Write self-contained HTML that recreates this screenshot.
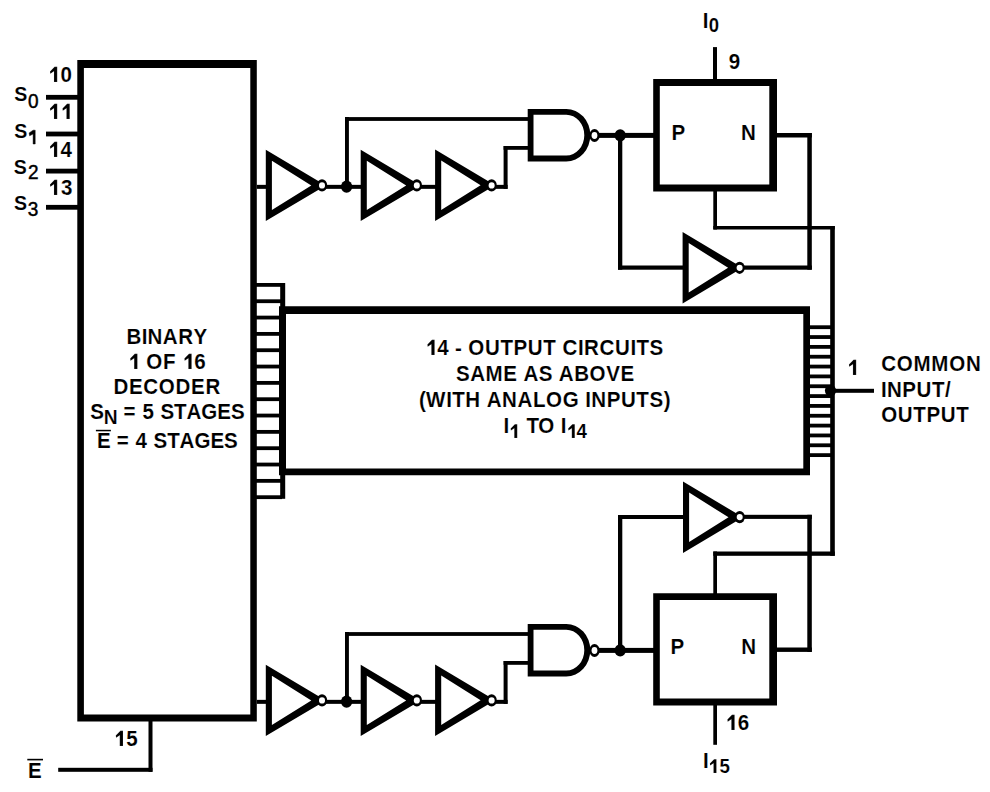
<!DOCTYPE html><html><head><meta charset="utf-8"><style>html,body{margin:0;padding:0;background:#fff;width:990px;height:792px;overflow:hidden;font-family:"Liberation Sans",sans-serif}svg{display:block}</style></head><body><svg width="990" height="792" viewBox="0 0 990 792"><rect width="990" height="792" fill="#fff"/><g fill="#000"><path fill-rule="evenodd" d="M77.3,60H256.8V721.6H77.3Z M83.9,68H250.3V714.4H83.9Z"/><rect x="46.00" y="94.90" width="32.00" height="4.80"/><rect x="46.00" y="131.60" width="32.00" height="4.80"/><rect x="46.00" y="168.70" width="32.00" height="4.80"/><rect x="46.00" y="204.90" width="32.00" height="4.80"/><rect x="58.20" y="767.80" width="94.30" height="4.00"/><rect x="148.50" y="721.00" width="4.00" height="50.80"/><rect x="256.00" y="283.00" width="26.00" height="3.80"/><rect x="256.00" y="299.33" width="26.00" height="3.80"/><rect x="256.00" y="315.66" width="26.00" height="3.80"/><rect x="256.00" y="331.99" width="26.00" height="3.80"/><rect x="256.00" y="348.32" width="26.00" height="3.80"/><rect x="256.00" y="364.65" width="26.00" height="3.80"/><rect x="256.00" y="380.98" width="26.00" height="3.80"/><rect x="256.00" y="397.31" width="26.00" height="3.80"/><rect x="256.00" y="413.64" width="26.00" height="3.80"/><rect x="256.00" y="429.97" width="26.00" height="3.80"/><rect x="256.00" y="446.30" width="26.00" height="3.80"/><rect x="256.00" y="462.63" width="26.00" height="3.80"/><rect x="256.00" y="478.96" width="26.00" height="3.80"/><rect x="256.00" y="495.29" width="26.00" height="3.80"/><rect x="280.20" y="283.00" width="5.00" height="24.00"/><rect x="280.20" y="475.00" width="5.00" height="23.80"/><path fill-rule="evenodd" d="M279,306.3H810V475.3H279Z M286,313.9H803.3V468.4H286Z"/><rect x="809.00" y="325.30" width="22.00" height="3.80"/><rect x="809.00" y="335.14" width="22.00" height="3.80"/><rect x="809.00" y="344.98" width="22.00" height="3.80"/><rect x="809.00" y="354.82" width="22.00" height="3.80"/><rect x="809.00" y="364.66" width="22.00" height="3.80"/><rect x="809.00" y="374.50" width="22.00" height="3.80"/><rect x="809.00" y="384.34" width="22.00" height="3.80"/><rect x="809.00" y="394.18" width="22.00" height="3.80"/><rect x="809.00" y="404.02" width="22.00" height="3.80"/><rect x="809.00" y="413.86" width="22.00" height="3.80"/><rect x="809.00" y="423.70" width="22.00" height="3.80"/><rect x="809.00" y="433.54" width="22.00" height="3.80"/><rect x="809.00" y="443.38" width="22.00" height="3.80"/><rect x="809.00" y="453.22" width="22.00" height="3.80"/><rect x="830.20" y="226.00" width="4.60" height="329.80"/><ellipse cx="830.5" cy="390.6" rx="5.6" ry="5.9"/><rect x="830.00" y="388.80" width="44.00" height="4.00"/><rect x="256.80" y="184.85" width="10.20" height="4.00"/><path fill-rule="evenodd" d="M265.80,149.70 325.80,185.40 265.80,221.10Z M271.90,160.70 311.30,185.40 271.90,210.10Z"/><rect x="326.00" y="184.85" width="36.00" height="4.00"/><ellipse cx="346.6" cy="186.65" rx="5.6" ry="6.15"/><rect x="345.00" y="117.00" width="3.90" height="69.85"/><rect x="345.00" y="117.10" width="184.00" height="3.80"/><path fill-rule="evenodd" d="M360.70,149.70 420.70,185.40 360.70,221.10Z M366.80,160.70 406.20,185.40 366.80,210.10Z"/><rect x="420.00" y="184.85" width="17.00" height="4.00"/><path fill-rule="evenodd" d="M435.10,149.50 495.10,185.20 435.10,220.90Z M441.20,160.50 480.60,185.20 441.20,209.90Z"/><rect x="495.00" y="184.85" width="12.60" height="4.00"/><rect x="503.60" y="146.00" width="4.00" height="42.85"/><rect x="503.60" y="146.00" width="25.40" height="3.80"/><path fill-rule="evenodd" d="M527.7,108.9H566.3A24.00,26.25 0 0 1 566.3,161.4H527.7Z M533.5,114.7H566.3A18.00,20.45 0 0 1 566.3,155.6H533.5Z"/><rect x="598.00" y="132.90" width="57.00" height="5.00"/><ellipse cx="620.2" cy="135.3" rx="5.6" ry="6.15"/><ellipse cx="322.0" cy="185.4" rx="5.2" ry="6.1"/><ellipse cx="322.0" cy="185.4" rx="3.0" ry="3.15" fill="#fff"/><ellipse cx="416.8" cy="185.4" rx="5.2" ry="6.1"/><ellipse cx="416.8" cy="185.4" rx="3.0" ry="3.15" fill="#fff"/><ellipse cx="491.6" cy="185.4" rx="5.2" ry="6.1"/><ellipse cx="491.6" cy="185.4" rx="3.0" ry="3.15" fill="#fff"/><ellipse cx="594.5" cy="135.5" rx="5.2" ry="6.4"/><ellipse cx="594.5" cy="135.5" rx="2.9" ry="3.45" fill="#fff"/><rect x="256.80" y="699.85" width="10.20" height="4.00"/><path fill-rule="evenodd" d="M265.80,664.70 325.80,700.40 265.80,736.10Z M271.90,675.70 311.30,700.40 271.90,725.10Z"/><rect x="326.00" y="699.85" width="36.00" height="4.00"/><ellipse cx="346.6" cy="701.65" rx="5.6" ry="6.15"/><rect x="345.00" y="632.00" width="3.90" height="69.85"/><rect x="345.00" y="632.10" width="184.00" height="3.80"/><path fill-rule="evenodd" d="M360.70,664.70 420.70,700.40 360.70,736.10Z M366.80,675.70 406.20,700.40 366.80,725.10Z"/><rect x="420.00" y="699.85" width="17.00" height="4.00"/><path fill-rule="evenodd" d="M435.10,664.50 495.10,700.20 435.10,735.90Z M441.20,675.50 480.60,700.20 441.20,724.90Z"/><rect x="495.00" y="699.85" width="12.60" height="4.00"/><rect x="503.60" y="661.00" width="4.00" height="42.85"/><rect x="503.60" y="661.00" width="25.40" height="3.80"/><path fill-rule="evenodd" d="M527.7,623.9H566.3A24.00,26.25 0 0 1 566.3,676.4H527.7Z M533.5,629.6999999999999H566.3A18.00,20.45 0 0 1 566.3,670.6H533.5Z"/><rect x="598.00" y="647.90" width="57.00" height="5.00"/><ellipse cx="620.2" cy="650.3" rx="5.6" ry="6.15"/><ellipse cx="322.0" cy="700.4" rx="5.2" ry="6.1"/><ellipse cx="322.0" cy="700.4" rx="3.0" ry="3.15" fill="#fff"/><ellipse cx="416.8" cy="700.4" rx="5.2" ry="6.1"/><ellipse cx="416.8" cy="700.4" rx="3.0" ry="3.15" fill="#fff"/><ellipse cx="491.6" cy="700.4" rx="5.2" ry="6.1"/><ellipse cx="491.6" cy="700.4" rx="3.0" ry="3.15" fill="#fff"/><ellipse cx="594.5" cy="650.5" rx="5.2" ry="6.4"/><ellipse cx="594.5" cy="650.5" rx="2.9" ry="3.45" fill="#fff"/><rect x="713.00" y="47.10" width="4.00" height="32.90"/><path fill-rule="evenodd" d="M653.2,79.1H777V191.5H653.2Z M659.8,86.1H769.3V184.4H659.8Z"/><rect x="618.00" y="135.00" width="4.30" height="134.70"/><rect x="618.00" y="265.50" width="66.00" height="4.20"/><path fill-rule="evenodd" d="M682.60,232.10 742.60,267.80 682.60,303.50Z M688.70,243.10 728.10,267.80 688.70,292.50Z"/><rect x="743.00" y="265.50" width="68.80" height="4.20"/><rect x="807.30" y="133.00" width="4.50" height="136.70"/><rect x="776.00" y="133.00" width="35.80" height="4.50"/><ellipse cx="739.6" cy="267.8" rx="5.2" ry="6.1"/><ellipse cx="739.6" cy="267.8" rx="3.0" ry="3.15" fill="#fff"/><rect x="713.30" y="191.00" width="3.70" height="38.50"/><rect x="713.30" y="226.00" width="121.50" height="3.50"/><path fill-rule="evenodd" d="M653.2,593.3H777V705.4H653.2Z M659.8,600.1H769.3V698.6H659.8Z"/><rect x="618.00" y="515.00" width="4.30" height="135.00"/><rect x="618.00" y="515.00" width="66.00" height="4.00"/><path fill-rule="evenodd" d="M683.00,481.60 743.00,517.30 683.00,553.00Z M689.10,492.60 728.50,517.30 689.10,542.00Z"/><rect x="743.00" y="514.80" width="68.80" height="4.10"/><rect x="807.30" y="514.80" width="4.50" height="137.10"/><rect x="776.00" y="647.50" width="35.80" height="4.40"/><ellipse cx="739.7" cy="517.1" rx="5.2" ry="6.1"/><ellipse cx="739.7" cy="517.1" rx="3.0" ry="3.15" fill="#fff"/><rect x="713.30" y="551.50" width="121.50" height="4.30"/><rect x="713.30" y="551.50" width="3.70" height="42.50"/><rect x="713.30" y="705.00" width="3.70" height="39.80"/><rect x="95.90" y="429.80" width="15.00" height="1.50"/><rect x="27.30" y="758.80" width="15.70" height="1.60"/></g><g font-family="Liberation Sans, sans-serif" font-weight="bold" fill="#000" stroke="#fff" stroke-width="0.12" style="font-kerning:none"><text transform="scale(0.96,1)" x="63.14" y="82" font-size="21.4">0</text><path d="M57.19,66.87 57.19,82.00 53.98,82.00 53.98,71.30 50.28,73.80 50.00,71.49 54.62,66.87Z"/><path d="M57.19,103.87 57.19,119.00 53.98,119.00 53.98,108.30 50.28,110.80 50.00,108.49 54.62,103.87Z"/><path d="M69.70,103.87 69.70,119.00 66.49,119.00 66.49,108.30 62.79,110.80 62.51,108.49 67.13,103.87Z"/><text transform="scale(0.96,1)" x="63.00" y="157" font-size="21.4">4</text><path d="M57.19,141.87 57.19,157.00 53.98,157.00 53.98,146.30 50.28,148.80 50.00,146.49 54.62,141.87Z"/><text transform="scale(0.96,1)" x="63.45" y="195" font-size="21.4">3</text><path d="M57.19,179.87 57.19,195.00 53.98,195.00 53.98,184.30 50.28,186.80 50.00,184.49 54.62,179.87Z"/><text transform="scale(0.96,1)" x="14.86" y="101" font-size="20.4">S</text><text transform="scale(0.96,1)" x="29.23" y="108" font-size="19.8" font-weight="normal" stroke="#000" stroke-width="0.45">0</text><text transform="scale(0.96,1)" x="14.92" y="138" font-size="20.4">S</text><path d="M35.20,130.20 35.20,144.00 33.11,144.00 33.11,134.00 29.60,135.80 29.15,132.89 33.11,130.20Z" stroke="#000" stroke-width="0.45"/><text transform="scale(0.96,1)" x="14.45" y="174" font-size="20.4">S</text><text transform="scale(0.96,1)" x="29.18" y="179" font-size="19.8" font-weight="normal" stroke="#000" stroke-width="0.45">2</text><text transform="scale(0.96,1)" x="14.58" y="210" font-size="20.4">S</text><text transform="scale(0.96,1)" x="28.88" y="216" font-size="19.8" font-weight="normal" stroke="#000" stroke-width="0.45">3</text><text transform="scale(0.96,1)" x="131.69 147.63 153.67 169.61 185.55 201.49" y="344" font-size="21.4">BINARY</text><text transform="scale(0.96,1)" x="152.28 169.77 202.41" y="369" font-size="21.4">OF6</text><path d="M137.39,353.87 137.39,369.00 134.18,369.00 134.18,358.30 130.48,360.80 130.20,358.49 134.82,353.87Z"/><path d="M191.60,353.87 191.60,369.00 188.39,369.00 188.39,358.30 184.69,360.80 184.41,358.49 189.04,353.87Z"/><text transform="scale(0.96,1)" x="118.15 134.32 149.26 165.43 182.84 199.00 213.94" y="394" font-size="21.4">DECODER</text><text transform="scale(0.96,1)" x="93.91" y="419" font-size="21.4">S</text><text transform="scale(0.96,1)" x="108.10" y="424" font-size="20">N</text><text transform="scale(0.96,1)" x="128.75" y="419" font-size="21.4">=</text><text transform="scale(0.96,1)" x="148.55" y="419" font-size="21.4">5</text><text transform="scale(0.96,1)" x="167.09 181.31 194.27 209.72 226.41 240.62" y="419" font-size="21.4">STAGES</text><text transform="scale(0.96,1)" x="101.05" y="448" font-size="21.4">E</text><text transform="scale(0.96,1)" x="121.66" y="448" font-size="21.4">=</text><text transform="scale(0.96,1)" x="141.24" y="448" font-size="21.4">4</text><text transform="scale(0.96,1)" x="159.90 174.12 187.09 202.53 219.22 233.44" y="448" font-size="21.4">STAGES</text><text transform="scale(0.96,1)" x="455.42 474.09 487.78 505.16 521.30 534.95 549.86 566.00 585.89 602.03 608.26 624.40 640.54 656.67 662.91 676.56" y="355" font-size="21.4">4-OUTPUTCIRCUITS</text><path d="M434.59,339.87 434.59,355.00 431.38,355.00 431.38,344.30 427.68,346.80 427.40,344.49 432.02,339.87Z"/><text transform="scale(0.96,1)" x="475.01 489.80 505.82 524.31 545.22 561.24 582.15 598.17 614.20 631.46 646.25" y="381" font-size="21.4">SAMEASABOVE</text><text transform="scale(0.96,1)" x="436.43 443.85 464.88 471.06 484.67 506.94 523.03 539.12 555.20 568.81 586.14 609.65 615.84 631.92 646.78 662.87 676.48 691.34" y="407" font-size="21.4">(WITHANALOGINPUTS)</text><text transform="scale(0.96,1)" x="524.53" y="433" font-size="21.4">I</text><path d="M517.23,424.21 517.23,438.00 514.30,438.00 514.30,428.25 510.93,430.53 510.67,428.43 514.89,424.21Z"/><text transform="scale(0.96,1)" x="548.41 560.61" y="433" font-size="21.4">TO</text><text transform="scale(0.96,1)" x="584.01" y="433" font-size="21.4">I</text><text transform="scale(0.96,1)" x="600.41" y="438" font-size="19.5">4</text><path d="M574.75,424.21 574.75,438.00 571.83,438.00 571.83,428.25 568.45,430.53 568.20,428.43 572.41,424.21Z"/><path d="M856.15,359.87 856.15,375.00 852.94,375.00 852.94,364.30 849.23,366.80 848.95,364.49 853.58,359.87Z"/><text transform="scale(0.96,1)" x="917.87 934.07 951.51 970.19 988.86 1006.30" y="371" font-size="21.4">COMMON</text><text transform="scale(0.96,1)" x="917.84 923.94 939.95 954.73 970.74 984.26" y="397" font-size="21.4">INPUT/</text><text transform="scale(0.96,1)" x="917.87 935.28 951.44 965.12 980.06 996.22" y="422" font-size="21.4">OUTPUT</text><text transform="scale(0.96,1)" x="732.13" y="28" font-size="21.4">I</text><text transform="scale(0.96,1)" x="738.24" y="32" font-size="19.3">0</text><text transform="scale(0.96,1)" x="759.18" y="69" font-size="21.4">9</text><text transform="scale(0.96,1)" x="699.54" y="140" font-size="21.4">P</text><text transform="scale(0.96,1)" x="771.91" y="140" font-size="21.4">N</text><text transform="scale(0.96,1)" x="698.45" y="654" font-size="21.4">P</text><text transform="scale(0.96,1)" x="772.12" y="654" font-size="21.4">N</text><text transform="scale(0.96,1)" x="768.45" y="730" font-size="21.4">6</text><path d="M734.59,714.87 734.59,730.00 731.38,730.00 731.38,719.30 727.68,721.80 727.40,719.49 732.02,714.87Z"/><text transform="scale(0.96,1)" x="732.24" y="768" font-size="21.4">I</text><text transform="scale(0.96,1)" x="749.49" y="773" font-size="19.5">5</text><path d="M716.45,759.21 716.45,773.00 713.53,773.00 713.53,763.25 710.15,765.53 709.90,763.43 714.11,759.21Z"/><text transform="scale(0.96,1)" x="131.61" y="746" font-size="21.4">5</text><path d="M122.99,730.87 122.99,746.00 119.78,746.00 119.78,735.30 116.08,737.80 115.80,735.49 120.42,730.87Z"/><text transform="scale(0.96,1)" x="29.18" y="778" font-size="21.4">E</text></g></svg></body></html>
